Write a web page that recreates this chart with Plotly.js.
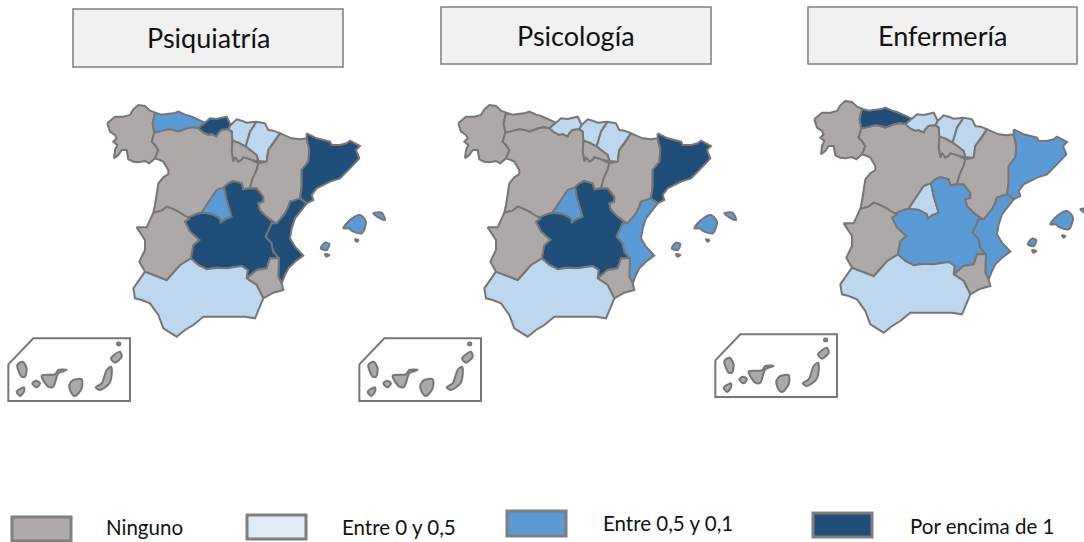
<!DOCTYPE html>
<html><head><meta charset="utf-8">
<script src="https://cdn.plot.ly/plotly-3.0.1.min.js"></script>
<style>html,body{margin:0;padding:0;background:#fff}#c{width:1084px;height:542px}</style>
</head><body><div id="c"></div>
<script>
const panelTitles=["Psiquiatría","Psicología","Enfermería"];
const categories=["Ninguno","Entre 0 y 0,5","Entre 0,5 y 0,1","Por encima de 1"];
const regionNames=["Galicia","Asturias","Cantabria","País Vasco","Navarra","La Rioja","Castilla y León","Madrid","Castilla-La Mancha","Aragón","Cataluña","C. Valenciana","Murcia","Andalucía","Extremadura","Baleares","Canarias"];
const psiquiatria=[0,2,3,1,1,0,0,2,3,0,3,3,0,1,0,2,0];
const psicologia =[0,0,1,1,1,0,0,2,3,0,3,2,0,1,0,2,0];
const enfermeria =[0,3,1,1,1,0,0,1,2,0,2,2,0,1,0,2,0];
const outlines={
"Galicia":[[[22,70,35,58,45,50,70,50,90,45,100,28,115,15,135,18,150,32,165,38,158,70,163,98,155,125,165,135,175,150,165,175,148,190,135,183,115,187,100,185,85,178,80,150,65,150,55,165,42,175,45,150,52,135,40,125,50,115,45,105,30,95]]],
"Asturias":[[[165,38,185,44,200,42,220,40,235,35,255,44,270,48,295,58,315,68,295,85,280,82,262,85,235,95,220,90,205,88,185,95,163,98,158,70]]],
"Cantabria":[[[315,68,330,55,350,57,380,50,385,60,392,75,385,88,365,90,355,100,350,110,335,103,325,105,310,98,295,85]]],
"País Vasco":[[[392,75,410,58,425,62,440,68,470,65,450,95,437,140,415,128,397,122,395,95,385,88]]],
"Navarra":[[[470,65,495,70,505,90,520,92,540,100,520,130,505,150,500,185,475,183,470,165,450,150,437,140,450,95]]],
"La Rioja":[[[397,122,415,128,437,140,450,150,470,165,475,185,450,178,430,172,425,180,415,185,405,172,400,185,395,155]]],
"Castilla y León":[[[163,98,205,88,220,90,235,95,262,85,280,82,295,85,310,98,325,105,335,103,350,110,355,100,365,90,385,88,395,95,397,122,395,155,400,185,405,172,415,185,425,180,430,172,450,178,475,190,470,210,458,235,450,265,430,268,425,250,400,243,385,250,372,262,350,270,330,300,305,338,290,342,270,355,255,348,240,338,215,325,200,320,185,332,160,338,165,315,175,250,190,232,205,222,205,210,190,185,180,180,165,175,175,150,165,135,155,125]]],
"Madrid":[[[372,262,380,300,395,350,375,358,362,368,360,355,335,342,305,338,330,300,350,270]]],
"Castilla-La Mancha":[[[255,365,270,350,290,342,305,338,335,342,360,355,362,368,375,358,395,350,380,300,372,262,385,250,400,243,425,250,430,268,450,265,470,265,480,278,490,290,490,305,475,310,480,330,500,350,520,365,515,370,497,410,515,430,520,455,537,475,510,475,500,505,470,510,440,535,443,510,425,498,380,505,350,503,320,508,295,495,272,475,280,435,298,420,270,395]]],
"Aragón":[[[540,100,575,115,600,118,620,115,628,150,625,185,605,210,605,260,600,295,570,305,565,320,555,340,530,370,520,365,500,350,480,330,475,310,490,305,490,290,480,278,470,265,450,265,458,235,470,210,475,190,500,185,505,150,520,130]]],
"Cataluña":[[[620,100,650,115,690,125,695,135,720,135,740,130,750,122,780,138,768,150,778,175,755,200,720,235,690,245,650,265,635,285,640,300,620,310,600,295,605,260,605,210,625,185,628,150,620,115]]],
"C. Valenciana":[[[570,305,600,295,620,310,600,335,585,355,575,385,570,415,585,440,610,467,585,485,565,505,555,525,545,550,535,530,537,475,520,455,515,430,497,410,515,370,530,370,555,340,565,320]]],
"Murcia":[[[510,475,537,475,535,530,545,550,550,570,520,578,490,595,470,555,440,535,470,510,500,505]]],
"Andalucía":[[[135,515,200,540,240,495,272,475,295,495,320,508,350,503,380,505,425,498,443,510,440,535,470,555,490,595,465,655,435,650,400,650,365,652,310,650,280,675,255,690,230,710,190,685,175,645,150,610,125,600,105,595,100,565]]],
"Extremadura":[[[160,338,185,332,200,320,215,325,240,338,255,348,270,355,255,365,270,395,298,420,280,435,272,475,240,495,200,540,135,515,118,485,135,450,135,420,110,382,140,382]]],
"Baleares":[[[730,385,750,360,780,345,798,365,785,400,760,395,745,385]],[[820,340,845,338,855,360,835,352]],[[662,445,675,428,688,432,680,450]],[[675,462,688,465,680,470]],[[765,418,775,420,770,425]]],
"Canarias":[[[-248,795,-232,785,-220,805,-225,830,-235,830]],[[-250,875,-228,862,-228,875,-240,888]],[[-203,850,-192,842,-180,850,-190,862]],[[-175,827,-135,823,-125,810,-100,810,-125,820,-140,860,-155,860]],[[-92,855,-80,840,-55,838,-55,865,-75,888,-88,875]],[[-13,862,5,850,20,810,33,800,35,825,28,850,0,870]],[[33,775,60,755,65,770,45,788]],[[52,728,60,728,60,735,52,735]]]
};
const canaryFrame=[-275,793,-200,715,90,715,90,903,-275,903,-275,793];
const colorScale=["#ADA9A8","#BDD7EE","#5B9BD5","#1F4E79"];
const swatchColors=["#AFABAB","#DEEAF6","#5B9BD5","#1F4E79"];
const panelValues=[psiquiatria,psicologia,enfermeria];
const panelShift=[[0,0],[1053,0],[2121,-12]];
const titleBoxes=[[73,9,343,67],[441,7,711,64],[808,7,1077,64]];
const titleText=[[208,38],[576,35],[942,35]];
const swatchBoxes=[[12,517,71,541],[247,515,306,539],[507,511,566,536],[813,513,872,537]];
const legendText=[[144,527],[399,527],[668,523],[982,526]];

const traces=[];const shapes=[];const annotations=[];
panelValues.forEach((vals,p)=>{
  const sfx=p===0?"":String(p+1);
  regionNames.forEach((r,i)=>{
    const isl=(r==="Canarias"||r==="Baleares");
    outlines[r].forEach(part=>{
      const a=part[0],x=[],y=[];
      for(let k=0;k<a.length;k+=2){x.push(a[k]);y.push(a[k+1]);}
      x.push(a[0]);y.push(a[1]);
      traces.push({type:"scatter",mode:"lines",x,y,fill:"toself",fillcolor:colorScale[vals[i]],
        line:{color:"#767676",width:2,shape:isl?"spline":"linear",smoothing:0.8},hoverinfo:"text",text:r+": "+categories[vals[i]],
        showlegend:false,xaxis:"x"+sfx,yaxis:"y"+sfx});
    });
  });
  const fx=[],fy=[];
  for(let k=0;k<canaryFrame.length;k+=2){fx.push(canaryFrame[k]);fy.push(canaryFrame[k+1]);}
  traces.push({type:"scatter",mode:"lines",x:fx,y:fy,line:{color:"#767676",width:2},hoverinfo:"skip",showlegend:false,xaxis:"x"+sfx,yaxis:"y"+sfx});
});
const W=1084,H=542;
const rectShape=(b,fill,lc,lw)=>({type:"rect",xref:"paper",yref:"paper",x0:b[0]/W,x1:b[2]/W,y0:1-b[1]/H,y1:1-b[3]/H,fillcolor:fill,line:{color:lc,width:lw},layer:"below"});
titleBoxes.forEach(b=>shapes.push(rectShape(b,"#F1F1F1","#7F7F7F",1.5)));
swatchBoxes.forEach((b,i)=>shapes.push(rectShape(b,swatchColors[i],"#7F7F7F",3)));
panelTitles.forEach((t,i)=>annotations.push({text:t,xref:"paper",yref:"paper",x:titleText[i][0]/W,y:1-titleText[i][1]/H,xanchor:"center",yanchor:"middle",showarrow:false,font:{family:"Lato, sans-serif",size:27,color:"#111"}}));
categories.forEach((t,i)=>annotations.push({text:t,xref:"paper",yref:"paper",x:legendText[i][0]/W,y:1-legendText[i][1]/H,xanchor:"center",yanchor:"middle",showarrow:false,font:{family:"Lato, sans-serif",size:20.5,color:"#111"}}));
const layout={width:W,height:H,margin:{l:0,r:0,t:0,b:0},paper_bgcolor:"#fff",plot_bgcolor:"rgba(0,0,0,0)",showlegend:false,shapes,annotations};
panelShift.forEach((s,p)=>{
  const sfx=p===0?"":String(p+1);
  const ax={visible:false,fixedrange:true,showgrid:false,zeroline:false,domain:[0,1]};
  layout["xaxis"+sfx]=Object.assign({},ax,{range:[-300-s[0],W*3-300-s[0]],anchor:"y"+sfx});
  layout["yaxis"+sfx]=Object.assign({},ax,{range:[H*3-300-s[1],-300-s[1]],anchor:"x"+sfx});
});
Plotly.newPlot("c",traces,layout,{displayModeBar:false,staticPlot:true});
</script></body></html>
